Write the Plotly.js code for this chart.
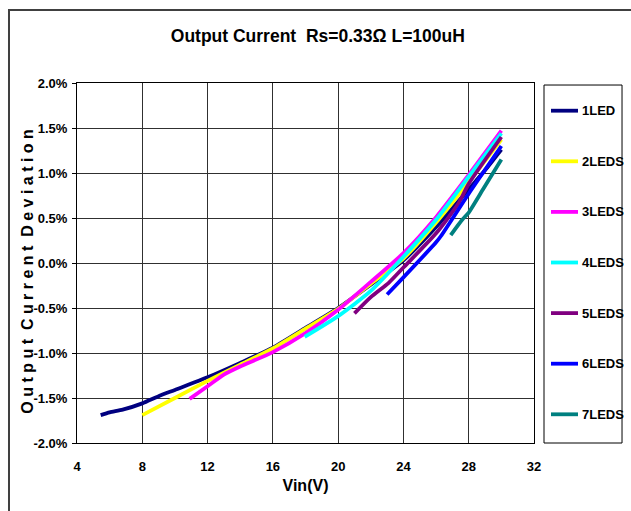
<!DOCTYPE html>
<html>
<head>
<meta charset="utf-8">
<script src="https://cdn.plot.ly/plotly-3.0.1.min.js"></script>
<style>html,body{margin:0;padding:0;background:#fff;}#chart{width:631px;height:511px;}</style>
</head>
<body>
<div id="chart"></div>
<script>
// Series names and colours
const seriesNames = ["1LED", "2LEDS", "3LEDS", "4LEDS", "5LEDS", "6LEDS", "7LEDS"];
const seriesColors = ["#000080", "#FFFF00", "#FF00FF", "#00FFFF", "#800080", "#0000FF", "#008080"];

// Vin (V) and output current deviation (%)
const vin1 = [5.45, 6.0, 6.8, 8, 9, 10, 12, 14, 16, 18, 20, 22, 24, 26, 28, 29, 30];
const dev1 = [-1.69, -1.66, -1.63, -1.56, -1.48, -1.41, -1.27, -1.11, -0.94, -0.72, -0.50, -0.24, 0.03, 0.40, 0.82, 1.03, 1.26];

const vin2 = [8, 10, 12, 14, 16, 18, 20, 22, 24, 26, 28, 30];
const dev2 = [-1.69, -1.50, -1.31, -1.13, -0.95, -0.73, -0.51, -0.23, 0.05, 0.45, 0.90, 1.37];

const vin3 = [10.9, 12, 13, 14, 16, 18, 20, 22, 24, 26, 28, 30];
const dev3 = [-1.51, -1.37, -1.24, -1.15, -0.99, -0.78, -0.52, -0.21, 0.11, 0.51, 0.98, 1.47];

const vin4 = [17.95, 20, 22, 24, 26, 28, 30];
const dev4 = [-0.82, -0.59, -0.31, 0.07, 0.48, 0.96, 1.44];

const vin5 = [21.0, 22, 23.1, 24, 26, 27.4, 28, 30];
const dev5 = [-0.56, -0.38, -0.22, -0.05, 0.33, 0.67, 0.88, 1.40];

const vin6 = [23.0, 24, 26, 26.3, 28, 30];
const dev6 = [-0.35, -0.16, 0.23, 0.30, 0.77, 1.30];

const vin7 = [26.9, 27.6, 28, 28.85, 30];
const dev7 = [0.31, 0.48, 0.56, 0.81, 1.15];

const xTicks = [4, 8, 12, 16, 20, 24, 28, 32];
const yTicks = [-2.0, -1.5, -1.0, -0.5, 0.0, 0.5, 1.0, 1.5, 2.0];

const xs = [vin1, vin2, vin3, vin4, vin5, vin6, vin7];
const ys = [dev1, dev2, dev3, dev4, dev5, dev6, dev7];

const FONT = "'Liberation Sans Narrow', 'Arial Narrow', 'Liberation Sans', Arial, sans-serif";

const traces = seriesNames.map((n, i) => ({
  x: xs[i], y: ys[i], name: n, type: "scatter", mode: "lines",
  line: {color: seriesColors[i], width: 3.8, shape: "spline", smoothing: 0.6},
  showlegend: false
}));

// Manual legend (box, sample lines, labels)
const shapes = [
  {type: "rect", xref: "paper", yref: "paper", x0: -0.1488, x1: 1.4, y0: -0.3, y1: 1.2028,
   line: {color: "#404040", width: 2}, fillcolor: "rgba(0,0,0,0)", layer: "below"},
  {type: "rect", xref: "paper", yref: "paper", x0: 1.0219, x1: 1.1926, y0: 0, y1: 0.9944,
   line: {color: "#000000", width: 1}, fillcolor: "rgba(0,0,0,0)"}
];
const annotations = [];
seriesNames.forEach((n, i) => {
  const yp = (443 - 110.7 - 50.6 * i) / 360;
  shapes.push({type: "line", xref: "paper", yref: "paper", x0: 1.0372, x1: 1.0963, y0: yp, y1: yp,
    line: {color: seriesColors[i], width: 3.8}});
  annotations.push({xref: "paper", yref: "paper", x: 1.1007, y: yp, xanchor: "left", yanchor: "middle",
    text: n, showarrow: false, font: {family: FONT, size: 13, color: "#000"}});
});
annotations.push({xref: "paper", yref: "paper", x: -0.1072, y: 0.476, xanchor: "center", yanchor: "middle",
  textangle: -90, showarrow: false,
  text: "O u t p u t  C u r r e n t  D e v i a t i o n",
  font: {family: FONT, size: 16, color: "#000", weight: "bold"}});

const layout = {
  width: 631, height: 511,
  margin: {l: 77, r: 97, t: 83, b: 68, pad: 0},
  paper_bgcolor: "#ffffff", plot_bgcolor: "#ffffff",
  font: {family: FONT, size: 13, color: "#000", weight: "bold"},
  title: {text: "<b>Output Current  Rs=0.33Ω L=100uH</b>", x: 0.527, xanchor: "center", xref: "paper", y: 0.93, yanchor: "middle",
    font: {family: FONT, size: 17.5, color: "#000"}},
  xaxis: {
    range: [4, 32], tickvals: xTicks, ticktext: xTicks.map(String),
    showgrid: true, gridcolor: "#303030", gridwidth: 1,
    showline: true, linecolor: "#000", linewidth: 1, mirror: true,
    zeroline: false, ticks: "", ticklabelstandoff: 11,
    tickfont: {family: FONT, size: 13, color: "#000", weight: "bold"},
    title: {text: "<b>Vin(V)</b>", standoff: 7, font: {family: FONT, size: 16, color: "#000"}}
  },
  yaxis: {
    range: [-2.0, 2.0], tickvals: yTicks, ticktext: yTicks.map(v => v.toFixed(1) + "%"),
    showgrid: true, gridcolor: "#303030", gridwidth: 1,
    showline: true, linecolor: "#000", linewidth: 1, mirror: true,
    zeroline: false, ticks: "outside", ticklen: 4, tickcolor: "#000", ticklabelstandoff: 2,
    tickfont: {family: FONT, size: 13, color: "#000", weight: "bold"}
  },
  shapes: shapes,
  annotations: annotations
};

Plotly.newPlot("chart", traces, layout, {displayModeBar: false, staticPlot: true});
</script>
</body>
</html>
